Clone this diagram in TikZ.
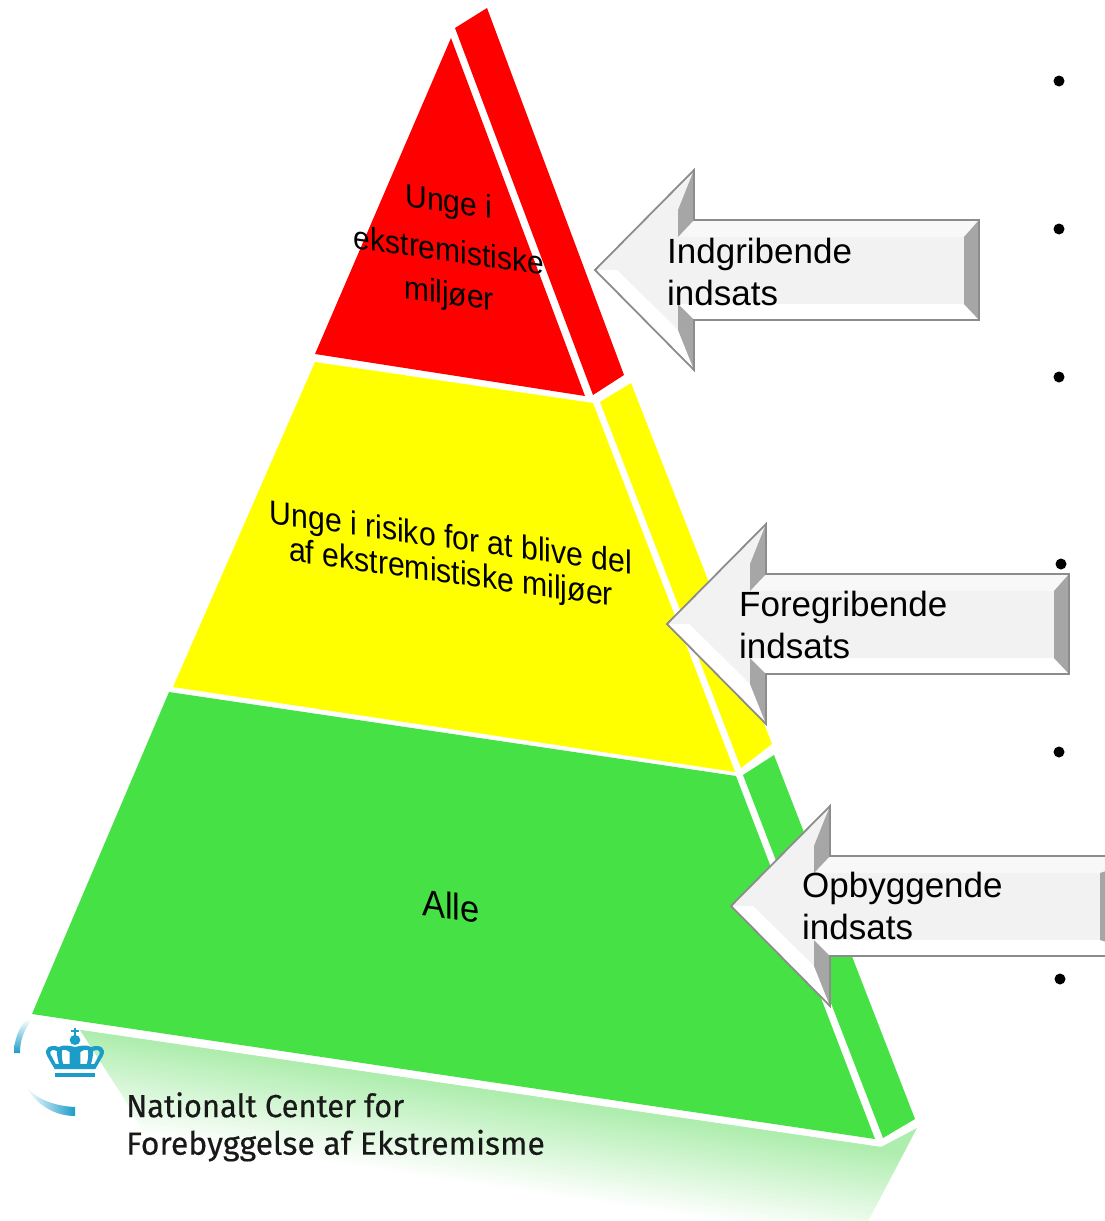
\documentclass[tikz,border=0pt]{standalone}
\usepackage{fontspec}
\setmainfont{Liberation Sans}
\newfontfamily\logofont[FakeBold=0.3]{Fira Sans}
\definecolor{pred}{HTML}{FF0000}
\definecolor{pyellow}{HTML}{FFFF00}
\definecolor{pgreen}{HTML}{46E245}
\definecolor{pglow}{HTML}{ADEDAD}
\definecolor{logoblue}{HTML}{1C9CC8}
\definecolor{bevdark}{HTML}{A6A6A6}
\definecolor{bevline}{HTML}{8C8C8C}
\definecolor{bevface}{HTML}{F2F2F2}
\definecolor{bevtop}{HTML}{F8F8F8}
\tikzset{
  pyrtext/.style={font=\fontsize{#1}{#1}\selectfont, inner sep=0pt, align=center, text=black, transform shape},
  arrowtext/.style={font=\fontsize{35}{42}\selectfont, inner sep=0pt, align=left, anchor=north west, text=black},
  bulletdot/.style={circle, fill=black, inner sep=0pt, minimum size=11pt},
  logotext/.style={font=\logofont\fontsize{32}{37.5}\selectfont, inner sep=0pt, align=left, anchor=north west, text=black!90}
}
% tip x, tip y, outer right (relative), inner right (relative)
\newcommand{\bevelarrow}[4]{%
  \begin{scope}[shift={(#1,#2)}]
    \fill[bevface] (0,0) -- (99,-100) -- (99,-50) -- (#3,-50) -- (#3,50) -- (99,50) -- (99,100) -- cycle;
    \fill[bevtop] (99,-50) -- (#3,-50) -- (#4,-33) -- (83,-33) -- cycle;
    \fill[white] (99,50) -- (#3,50) -- (#4,34) -- (83,34) -- cycle;
    \fill[white] (0,0) -- (22,0) -- (83,60) -- (99,100) -- cycle;
    \fill[bevdark] (#3,-50) -- (#3,50) -- (#4,34) -- (#4,-33) -- cycle;
    \fill[bevdark] (99,-100) -- (99,-50) -- (83,-33) -- (83,-60) -- cycle;
    \fill[bevdark] (99,100) -- (99,50) -- (83,34) -- (83,60) -- cycle;
    \draw[bevline, line width=1.8pt, line join=miter] (0,0) -- (99,-100) -- (99,-50) -- (#3,-50) -- (#3,50) -- (99,50) -- (99,100) -- cycle;
  \end{scope}}
\begin{document}
\begin{tikzpicture}[x=1pt,y=-1pt]
\useasboundingbox (0,0) rectangle (1104,1221);
\fill[white] (0,0) rectangle (1104,1221);
% bullets
\node[bulletdot] (b1) at (1059,81) {};
\node[bulletdot] (b2) at (1059,229) {};
\node[bulletdot] (b3) at (1059,377) {};
\node[bulletdot] (b4) at (1061,564) {};
\node[bulletdot] (b5) at (1059,752) {};
\node[bulletdot] (b6) at (1060,979) {};
% reflection: strips that fade to white, parallel to the pyramid's base
\begin{scope}
  \clip (80,1030) -- (881,1147) -- (917,1128) -- (868,1221) -- (195,1221) -- (122,1095) -- cycle;
  \fill[pglow] (-100,950) -- (1200,1140) -- (1200,1196) -- (-100,1005) -- cycle;
  \foreach \i in {0,...,47} {
    \pgfmathsetmacro{\pct}{100-2.08*\i}
    \pgfmathsetmacro{\off}{2*\i}
    \fill[pglow!\pct!white] (-100,1003+\off) -- (1200,1194+\off) -- (1200,1197+\off) -- (-100,1006+\off) -- cycle;
  }
  \fill[white] (-100,1099) -- (1200,1290) -- (1200,1400) -- (-100,1400) -- cycle;
\end{scope}
% pyramid
\fill[pred] (451,38) -- (585,396) -- (315,354) -- cycle;
\fill[pred] (455,28) -- (487,8) -- (624,375) -- (593,395) -- cycle;
\fill[pyellow] (315,362) -- (593,403) -- (735,772) -- (173,687) -- cycle;
\fill[pyellow] (631,383) -- (772,744) -- (741,768) -- (600,402) -- cycle;
\fill[pgreen] (169,692) -- (736,776) -- (875,1139) -- (32,1014) -- cycle;
\fill[pgreen] (743,775) -- (774,755) -- (915,1119) -- (883,1138) -- cycle;
% pyramid labels (sheared so that the stems stay upright)
\node[pyrtext=30, cm={1,-0.14,0,1.08,(0,0)}] (t1a) at (449,204) {Unge i};
\node[pyrtext=30, cm={1,-0.14,0,1.08,(0,0)}] (t1b) at (449,250) {ekstremistiske};
\node[pyrtext=30, cm={1,-0.14,0,1.08,(0,0)}] (t1c) at (449,296) {miljøer};
\node[pyrtext=30.2, cm={1,-0.14,0,1.1,(0,0)}] (t2a) at (451,540) {Unge i risiko for at blive del};
\node[pyrtext=30.2, cm={1,-0.14,0,1.1,(0,0)}] (t2b) at (451,575) {af ekstremistiske miljøer};
\node[pyrtext=34.5, cm={1,-0.14,0,1.08,(0,0)}] (t3) at (451,906) {Alle};
% arrows
\bevelarrow{595}{270}{384}{369}
\bevelarrow{667}{624}{402}{387}
\bevelarrow{731}{906}{420}{369}
\node[arrowtext] (a1) at (667,238) {Indgribende\\indsats};
\node[arrowtext] (a2) at (739,591) {Foregribende\\indsats};
\node[arrowtext] (a3) at (802,872) {Opbyggende\\indsats};
% logo
\shade[top color=white, bottom color=logoblue] (14,1053) -- (20,1053) .. controls (20,1040) and (24,1030) .. (31,1021) -- (27,1019) .. controls (19,1027) and (14,1040) .. (14,1053) -- cycle;
\shade[left color=white, right color=logoblue] (75,1107) .. controls (55,1106) and (38,1100) .. (26,1087) .. controls (36,1104) and (54,1116) .. (75,1116) -- cycle;
\begin{scope}[shift={(75,0)}, xscale=1.07, shift={(-70,0)}]
\fill[logoblue, even odd rule]
  (51,1069) -- (44,1056) .. controls (40,1048) and (47,1044) .. (55,1047)
  .. controls (60,1044) and (65,1046) .. (70,1047)
  .. controls (75,1046) and (80,1044) .. (85,1047)
  .. controls (93,1044) and (100,1048) .. (96,1056) -- (89,1069) -- cycle
  (52,1064) -- (47,1054) .. controls (46,1050) and (50,1049) .. (53,1051) .. controls (53,1055) and (54,1060) .. (55,1064) -- cycle
  (59,1064) .. controls (58,1060) and (57,1055) .. (58,1050) .. controls (60,1049) and (63,1050) .. (65,1052) .. controls (65,1056) and (65,1060) .. (65,1064) -- cycle
  (88,1064) -- (93,1054) .. controls (94,1050) and (90,1049) .. (87,1051) .. controls (87,1055) and (86,1060) .. (85,1064) -- cycle
  (81,1064) .. controls (82,1060) and (83,1055) .. (82,1050) .. controls (80,1049) and (77,1050) .. (75,1052) .. controls (75,1056) and (75,1060) .. (75,1064) -- cycle;
\fill[logoblue] (70,1040) circle[radius=5];
\fill[logoblue] (68.8,1028) rectangle (71.2,1036);
\fill[logoblue] (66,1030) rectangle (74,1032);
\fill[logoblue] (51,1073) rectangle (89,1077);
\end{scope}
\node[logotext] (logo) at (126,1092) {\scalebox{.965}[1]{Nationalt Center for}\\Forebyggelse af Ekstremisme};
\end{tikzpicture}
\end{document}
